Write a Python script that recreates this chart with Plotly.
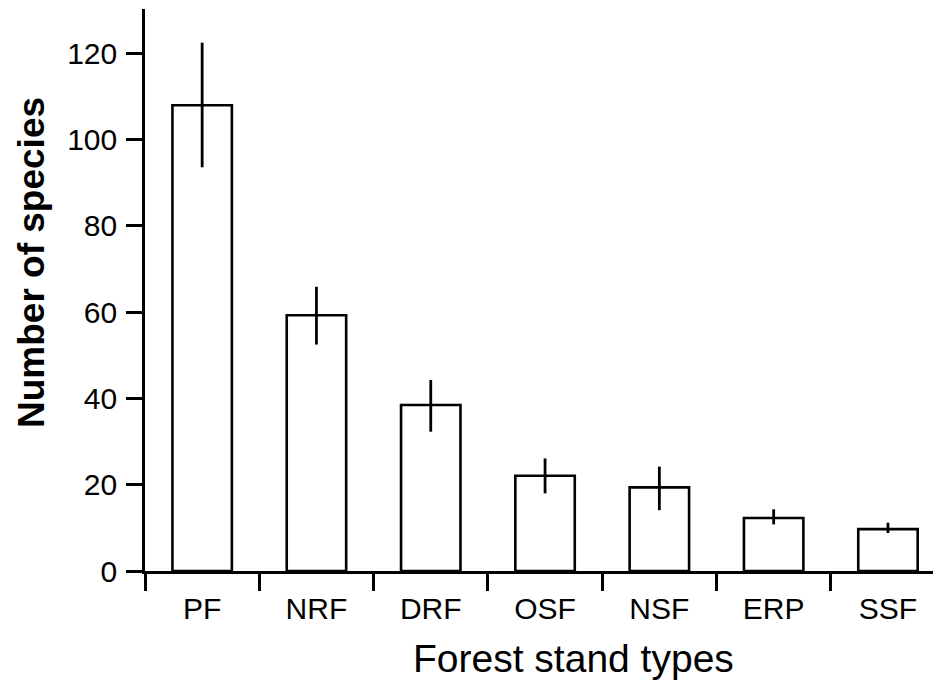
import plotly.graph_objects as go

categories = ["PF", "NRF", "DRF", "OSF", "NSF", "ERP", "SSF"]
means = [108.0, 59.3, 38.5, 22.1, 19.4, 12.3, 9.7]
err_upper = [122.5, 65.9, 44.3, 26.1, 24.2, 14.3, 11.2]
err_lower = [93.6, 52.5, 32.3, 18.0, 14.1, 10.8, 8.8]
y_ticks = [0, 20, 40, 60, 80, 100, 120]

plus = [u - m for u, m in zip(err_upper, means)]
minus = [m - l for m, l in zip(means, err_lower)]

FONT = "Liberation Sans, Arial, sans-serif"

fig = go.Figure()
fig.add_trace(go.Bar(
    x=categories, y=means,
    width=0.52,
    marker=dict(color="white", line=dict(color="black", width=2.6)),
    error_y=dict(type="data", symmetric=False, array=plus, arrayminus=minus,
                 color="black", thickness=2.8, width=0),
))

fig.update_layout(
    width=933, height=676,
    margin=dict(l=137, r=0, t=1, b=113),
    paper_bgcolor="white", plot_bgcolor="white",
    showlegend=False,
    font=dict(family=FONT, color="black", size=30),
)
fig.update_xaxes(
    type="category", range=[-0.5, 6.464],
    showline=True, linecolor="black", linewidth=2.6,
    ticks="outside", tickson="boundaries", ticklen=17, tickwidth=2.6, tickcolor="black",
    tickfont=dict(size=30, family=FONT), showgrid=False, zeroline=False,
    ticklabelstandoff=9,
)
fig.update_yaxes(
    range=[0, 130.3], tickvals=y_ticks,
    showline=True, linecolor="black", linewidth=2.6,
    ticks="outside", ticklen=16, tickwidth=2.6, tickcolor="black",
    tickfont=dict(size=30, family=FONT), showgrid=False, zeroline=False,
    ticklabelstandoff=3,
)
fig.add_annotation(text="Forest stand types", xref="paper", yref="paper",
                   x=(573 - 145) / 796, y=-(658 - 571) / 562, xanchor="center", yanchor="middle",
                   showarrow=False, font=dict(size=39, family=FONT))
fig.add_annotation(text="<b>Number of species</b>", xref="paper", yref="paper",
                   x=-(145 - 31) / 796, y=(571 - 263) / 562, xanchor="center", yanchor="middle",
                   textangle=-90, showarrow=False, font=dict(size=37, family=FONT))

fig.write_html("out.html")
